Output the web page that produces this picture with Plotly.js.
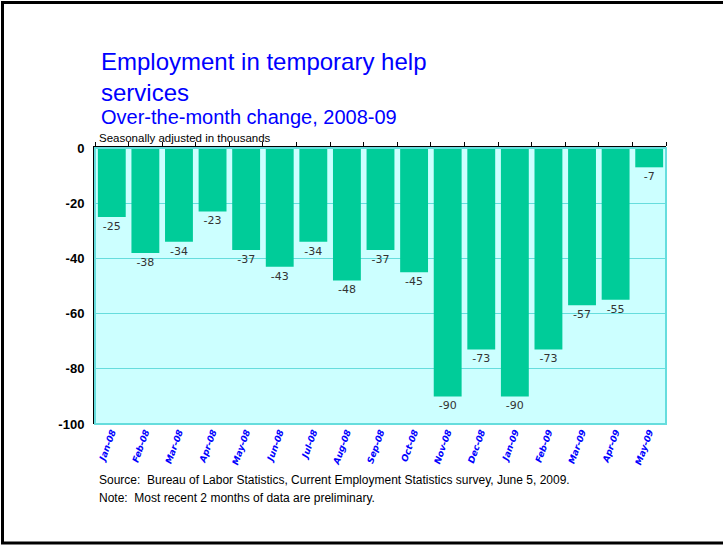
<!DOCTYPE html>
<html>
<head>
<meta charset="utf-8">
<script src="https://cdn.plot.ly/plotly-3.0.1.min.js"></script>
<style>
html,body{margin:0;padding:0;background:#fff;}
#chart{width:723px;height:546px;}
</style>
</head>
<body>
<div id="chart"></div>
<script>
const months = ["Jan-08","Feb-08","Mar-08","Apr-08","May-08","Jun-08","Jul-08","Aug-08","Sep-08","Oct-08","Nov-08","Dec-08","Jan-09","Feb-09","Mar-09","Apr-09","May-09"];
const changes = [-25,-38,-34,-23,-37,-43,-34,-48,-37,-45,-90,-73,-90,-73,-57,-55,-7];
const yTicks = [0,-20,-40,-60,-80,-100];

const L = 95, R = 666, T = 148, B = 424, W = 723, H = 546;
const pw = R - L, ph = B - T;
const px = v => (v - L) / pw;
const py = v => (B - v) / ph;

const font = "'Liberation Sans', Arial, sans-serif";
const tfont = "Tahoma, 'DejaVu Sans', Verdana, sans-serif";

const traces = [
  {
    type: "bar",
    x: months,
    y: changes,
    marker: {color: "#00cc99"},
    text: changes.map(String),
    textposition: "outside",
    cliponaxis: false,
    textfont: {family: tfont, size: 11, color: "#333333"},
    hoverinfo: "x+y"
  },
  {
    type: "bar",
    x: months,
    y: changes.map(() => 0),
    xaxis: "x2",
    yaxis: "y",
    marker: {color: "rgba(0,0,0,0)"},
    hoverinfo: "skip",
    showlegend: false
  }
];

const layout = {
  width: W, height: H,
  margin: {l: L, r: W - R, t: T, b: H - B, pad: 0},
  paper_bgcolor: "#ffffff",
  plot_bgcolor: "#ccffff",
  showlegend: false,
  bargap: 0.17,
  font: {family: font},
  xaxis: {
    type: "category",
    tickangle: -70,
    tickfont: {family: tfont, size: 9, color: "#0000ff", weight: "bold", style: "italic"},
    showline: false,
    ticks: "",
    showgrid: false,
    zeroline: false,
    fixedrange: true
  },
  xaxis2: {
    type: "category",
    overlaying: "x",
    side: "top",
    anchor: "y",
    matches: "x",
    showticklabels: false,
    ticks: "outside",
    tickson: "boundaries",
    ticklen: 4,
    tickcolor: "#000000",
    tickwidth: 1,
    showline: true,
    linecolor: "#000000",
    linewidth: 2,
    showgrid: false,
    zeroline: false
  },
  yaxis: {
    range: [-100, 0],
    tickvals: yTicks,
    ticktext: yTicks.map(String),
    tickfont: {family: font, size: 13, color: "#000000", weight: "bold"},
    showline: true,
    linecolor: "#000000",
    linewidth: 2,
    ticks: "",
    ticklabelstandoff: 6,
    showgrid: true,
    gridcolor: "#66dddd",
    gridwidth: 1,
    zeroline: false,
    fixedrange: true
  },
  shapes: [
    {type: "rect", xref: "paper", yref: "paper", x0: 0, x1: 1, y0: 0, y1: 1,
     line: {color: "#66dddd", width: 2}, layer: "above"},
    {type: "rect", xref: "paper", yref: "paper",
     x0: px(2.5), x1: px(740), y0: py(543), y1: py(2.5),
     line: {color: "#000000", width: 3}, layer: "above"}
  ],
  annotations: [
    {text: "Employment in temporary help<br>services", xref: "paper", yref: "paper",
     x: px(99), y: py(46), xanchor: "left", yanchor: "top", align: "left", showarrow: false,
     font: {family: font, size: 24, color: "#0000ff"}},
    {text: "Over-the-month change, 2008-09", xref: "paper", yref: "paper",
     x: px(99), y: py(104), xanchor: "left", yanchor: "top", align: "left", showarrow: false,
     font: {family: font, size: 20, color: "#0000ff"}},
    {text: "Seasonally adjusted in thousands", xref: "paper", yref: "paper",
     x: px(97), y: py(130), xanchor: "left", yanchor: "top", align: "left", showarrow: false,
     font: {family: font, size: 11.5, color: "#000000"}},
    {text: "Source:  Bureau of Labor Statistics, Current Employment Statistics survey, June 5, 2009.", xref: "paper", yref: "paper",
     x: px(97), y: py(471), xanchor: "left", yanchor: "top", align: "left", showarrow: false,
     font: {family: font, size: 12, color: "#000000"}},
    {text: "Note:  Most recent 2 months of data are preliminary.", xref: "paper", yref: "paper",
     x: px(97), y: py(489), xanchor: "left", yanchor: "top", align: "left", showarrow: false,
     font: {family: font, size: 12, color: "#000000"}}
  ]
};

Plotly.newPlot("chart", traces, layout, {displayModeBar: false, staticPlot: true});
</script>
</body>
</html>
